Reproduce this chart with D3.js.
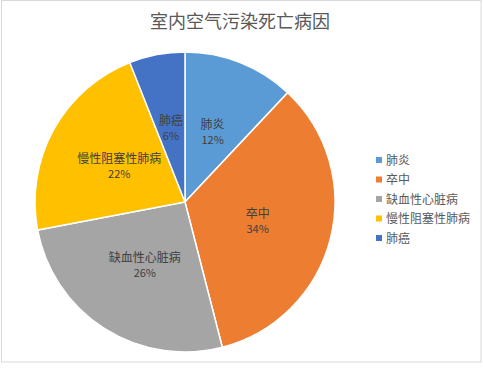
<!DOCTYPE html>
<html><head><meta charset="utf-8">
<script src="https://cdn.jsdelivr.net/npm/d3@7/dist/d3.min.js"></script>
<style>body{margin:0;background:#fff}svg{display:block}</style>
</head><body>
<svg id="c" width="483" height="368"></svg>
<script>
const title = "室内空气污染死亡病因";
const categories = ["肺炎", "卒中", "缺血性心脏病", "慢性阻塞性肺病", "肺癌"];
const values = [12, 34, 26, 22, 6];
const labels = ["12%", "34%", "26%", "22%", "6%"];
const colors = ["#5B9BD5", "#ED7D31", "#A5A5A5", "#FFC000", "#4472C4"];

const svg = d3.select("#c");
const font = "'Noto Sans CJK SC', 'Noto Sans', sans-serif";

svg.append("rect").attr("x", 1.5).attr("y", 0.5).attr("width", 479.5).attr("height", 361.5)
  .attr("fill", "#fff").attr("stroke", "#d9d9d9").attr("stroke-width", 1);

svg.append("text").attr("x", 240).attr("y", 28).attr("text-anchor", "middle")
  .attr("font-family", font).attr("font-size", 18).attr("fill", "#595959").text(title);

const cx = 185, cy = 202, R = 150;
const pie = d3.pie().sort(null).value(d => d)(values);
const arc = d3.arc().innerRadius(0).outerRadius(R);
const labelArc = d3.arc().innerRadius(R * 0.5).outerRadius(R * 0.5);

const g = svg.append("g").attr("transform", `translate(${cx},${cy})`);
g.selectAll("path").data(pie).join("path")
  .attr("d", arc).attr("fill", (d, i) => colors[i])
  .attr("stroke", "#fff").attr("stroke-width", 1.5);

const lg = g.selectAll("g.lbl").data(pie).join("g").attr("class", "lbl")
  .attr("transform", d => `translate(${labelArc.centroid(d)})`);
lg.append("text").attr("text-anchor", "middle").attr("y", -3)
  .attr("font-family", font).attr("font-size", 12).attr("fill", "#404040")
  .text((d, i) => categories[i]);
lg.append("text").attr("text-anchor", "middle").attr("y", 12)
  .attr("font-family", font).attr("font-size", 11).attr("fill", "#404040")
  .text((d, i) => labels[i]);

const legY = d3.scalePoint().domain(categories).range([160, 238]);
const leg = svg.append("g").selectAll("g").data(categories).join("g")
  .attr("transform", d => `translate(376,${legY(d)})`);
leg.append("rect").attr("x", 0).attr("y", -3).attr("width", 6).attr("height", 6)
  .attr("fill", (d, i) => colors[i]);
leg.append("text").attr("x", 10).attr("y", 4.5)
  .attr("font-family", font).attr("font-size", 12).attr("fill", "#595959").text(d => d);
</script>
</body></html>
